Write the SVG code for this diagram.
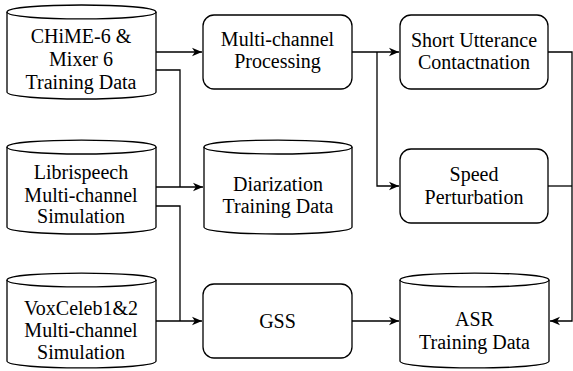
<svg xmlns="http://www.w3.org/2000/svg" width="573" height="371" viewBox="0 0 573 371">
<style>
.s{fill:#fff;stroke:#000;stroke-width:1.3}
.f{fill:none;stroke:#000;stroke-width:1.3}
.c{fill:none;stroke:#000;stroke-width:1.3}
</style>
<defs>
<marker id="a" markerWidth="12" markerHeight="10" refX="10" refY="5" orient="auto" markerUnits="userSpaceOnUse">
<path d="M0,0.8 L10,5 L0,9.2 L2.8,5 Z" fill="#000"/>
</marker>
</defs>
<g id="connectors">
<path class="c" d="M156,52 H202" marker-end="url(#a)"/>
<path class="c" d="M156,70 H180 V187"/>
<path class="c" d="M156,187 H203" marker-end="url(#a)"/>
<path class="c" d="M156,206 H180 V321"/>
<path class="c" d="M156,321 H202" marker-end="url(#a)"/>
<path class="c" d="M352,52 H399" marker-end="url(#a)"/>
<path class="c" d="M377,52 V186 H399" marker-end="url(#a)"/>
<path class="c" d="M548,52 H572 V321 H550" marker-end="url(#a)"/>
<path class="c" d="M548,186 H572"/>
<path class="c" d="M352,321 H399" marker-end="url(#a)"/>
</g>
<g font-family="Liberation Serif, 'Times New Roman', serif" font-size="20" fill="#000" text-anchor="middle">
<g id="chime">
<path class="s" d="M7,12 C7,2.7 156,2.7 156,12 L156,92 C156,101.3 7,101.3 7,92 Z"/>
<path class="f" d="M7,12 C7,21.3 156,21.3 156,12"/>
<text x="81" y="43">CHiME-6 &amp;</text>
<text x="81" y="66">Mixer 6</text>
<text x="81" y="89">Training Data</text>
</g>
<g id="librispeech">
<path class="s" d="M7,147 C7,137.7 156,137.7 156,147 L156,227 C156,236.3 7,236.3 7,227 Z"/>
<path class="f" d="M7,147 C7,156.3 156,156.3 156,147"/>
<text x="81" y="179">Librispeech</text>
<text x="81" y="201.5">Multi-channel</text>
<text x="81" y="223">Simulation</text>
</g>
<g id="voxceleb">
<path class="s" d="M7,280 C7,270.7 156,270.7 156,280 L156,361 C156,370.3 7,370.3 7,361 Z"/>
<path class="f" d="M7,280 C7,289.3 156,289.3 156,280"/>
<text x="81" y="315">VoxCeleb1&amp;2</text>
<text x="81" y="337">Multi-channel</text>
<text x="81" y="358.5">Simulation</text>
</g>
<g id="multichannel">
<rect class="s" x="203" y="15" width="149" height="74" rx="11"/>
<text x="277.5" y="46">Multi-channel</text>
<text x="277.5" y="68">Processing</text>
</g>
<g id="diarization">
<path class="s" d="M204,147 C204,137.7 352,137.7 352,147 L352,227 C352,236.3 204,236.3 204,227 Z"/>
<path class="f" d="M204,147 C204,156.3 352,156.3 352,147"/>
<text x="278" y="190.5">Diarization</text>
<text x="278" y="212.5">Training Data</text>
</g>
<g id="gss">
<rect class="s" x="203" y="284" width="149" height="74" rx="11"/>
<text x="277.5" y="328">GSS</text>
</g>
<g id="short">
<rect class="s" x="400" y="15" width="148" height="74" rx="11"/>
<text x="474" y="46.5">Short Utterance</text>
<text x="474" y="69">Contactnation</text>
</g>
<g id="speed">
<rect class="s" x="400" y="149" width="148" height="74" rx="11"/>
<text x="474" y="181">Speed</text>
<text x="474" y="204">Perturbation</text>
</g>
<g id="asr">
<path class="s" d="M400,280 C400,270.7 549,270.7 549,280 L549,361 C549,370.3 400,370.3 400,361 Z"/>
<path class="f" d="M400,280 C400,289.3 549,289.3 549,280"/>
<text x="474.5" y="326">ASR</text>
<text x="474.5" y="349">Training Data</text>
</g>
</g>
</svg>
